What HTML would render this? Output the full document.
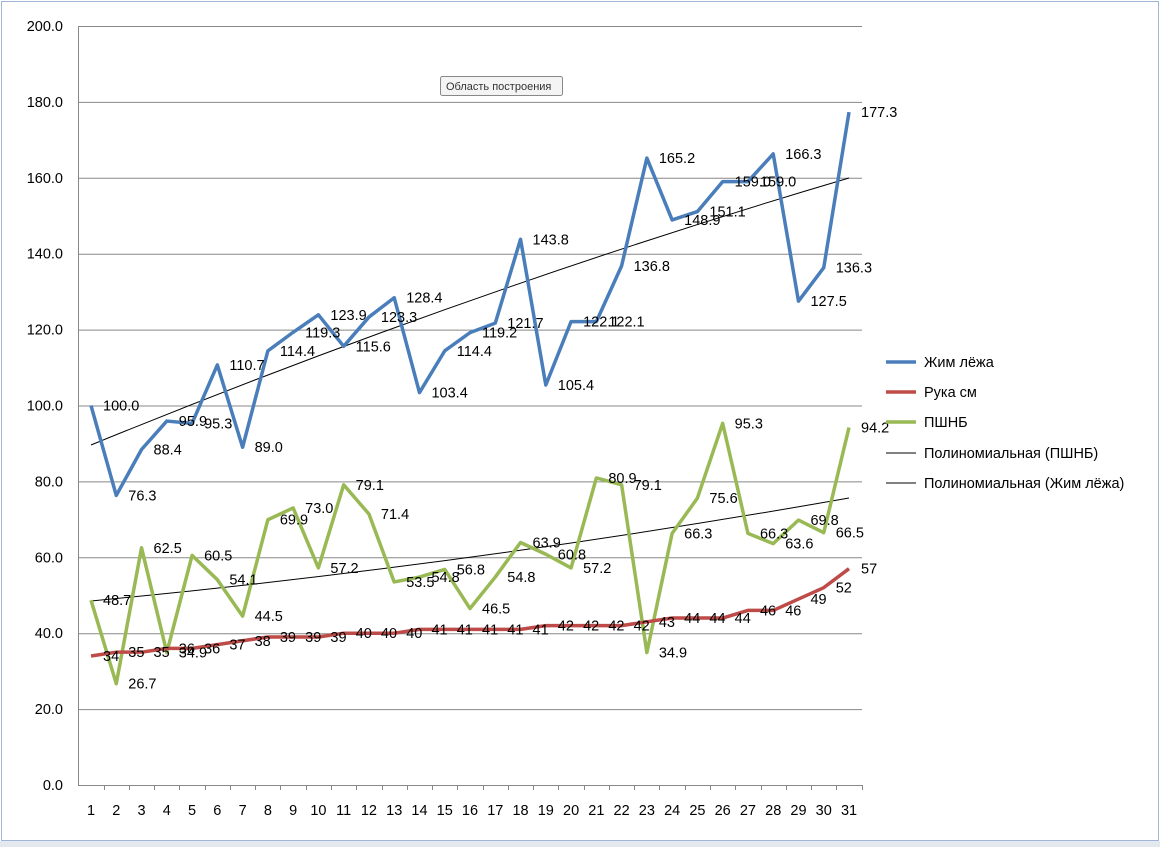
<!DOCTYPE html>
<html><head><meta charset="utf-8"><style>
body{margin:0;background:#fff;}
svg{display:block;font-family:"Liberation Sans",sans-serif;}
</style></head><body>
<svg width="1160" height="847" viewBox="0 0 1160 847" xmlns="http://www.w3.org/2000/svg">
<rect x="0" y="0" width="1160" height="847" fill="#fff"/>
<rect x="1.5" y="1.5" width="1157" height="839" fill="none" stroke="#9fb6d6" stroke-width="1"/>
<rect x="0" y="841" width="1160" height="6" fill="#e4e9f0"/>
<g id="grid" stroke="#888" stroke-width="1"></g>
<g id="ylab" font-size="14.5" fill="#000" text-anchor="end"></g>
<g id="xlab" font-size="14.5" fill="#000" text-anchor="middle"></g>
<path d="M91 445 Q470 290 849 178" fill="none" stroke="#000" stroke-width="1"/>
<path d="M91 601 Q470 565 849 498" fill="none" stroke="#000" stroke-width="1"/>
<g id="series"></g>
<g id="labels" font-size="14.5" fill="#000"></g>
<g font-size="14.5" fill="#000">
<line x1="886" y1="362" x2="916" y2="362" stroke="#4a7ebb" stroke-width="3.5"/><text x="924" y="367">Жим лёжа</text>
<line x1="886" y1="392" x2="916" y2="392" stroke="#be4b48" stroke-width="3.5"/><text x="924" y="397">Рука см</text>
<line x1="886" y1="422" x2="916" y2="422" stroke="#98b954" stroke-width="3.5"/><text x="924" y="427">ПШНБ</text>
<line x1="886" y1="453" x2="916" y2="453" stroke="#000" stroke-width="1"/><text x="924" y="458">Полиномиальная (ПШНБ)</text>
<line x1="886" y1="483" x2="916" y2="483" stroke="#000" stroke-width="1"/><text x="924" y="488">Полиномиальная (Жим лёжа)</text>
</g>
<rect x="440.5" y="76.5" width="122" height="19" fill="#f4f4f4" stroke="#888" rx="2"/>
<text x="446" y="90" font-size="11" fill="#333">Область построения</text>
</svg>
<script>
const ns="http://www.w3.org/2000/svg";
const X=i=>91+(i)*25.267, Y=v=>785-v*3.795;
function el(p,t,a,txt){const e=document.createElementNS(ns,t);for(const k in a)e.setAttribute(k,a[k]);if(txt!=null)e.textContent=txt;document.getElementById(p).appendChild(e);}
for(let v=0;v<=200;v+=20){const y=Y(v);if(v>0)el('grid','line',{x1:78,x2:862,y1:y+0.5,y2:y+0.5});el('ylab','text',{x:63,y:y+5},v.toFixed(1));}
el('grid','line',{x1:78.5,x2:78.5,y1:26,y2:785});
el('grid','line',{x1:78,x2:862,y1:785.5,y2:785.5});
for(let i=0;i<31;i++){el('xlab','text',{x:X(i),y:815},i+1);const x=Math.round(X(i)+12.6)+0.5;el('grid','line',{x1:x,x2:x,y1:785,y2:790});}
const jim=[100.0,76.3,88.4,95.9,95.3,110.7,89.0,114.4,119.3,123.9,115.6,123.3,128.4,103.4,114.4,119.2,121.7,143.8,105.4,122.1,122.1,136.8,165.2,148.9,151.1,159.0,159.0,166.3,127.5,136.3,177.3];
const ruka=[34,35,35,36,36,37,38,39,39,39,40,40,40,41,41,41,41,41,42,42,42,42,43,44,44,44,46,46,49,52,57];
const psh=[48.7,26.7,62.5,34.9,60.5,54.1,44.5,69.9,73.0,57.2,79.1,71.4,53.5,54.8,56.8,46.5,54.8,63.9,60.8,57.2,80.9,79.1,34.9,66.3,75.6,95.3,66.3,63.6,69.8,66.5,94.2];
function series(d,c,dec){el('series','polyline',{points:d.map((v,i)=>X(i)+','+Y(v)).join(' '),fill:'none',stroke:c,'stroke-width':3.5,'stroke-linejoin':'round'});
d.forEach((v,i)=>el('labels','text',{x:X(i)+12,y:Y(v)+5},dec?v.toFixed(1):v));}
series(jim,'#4a7ebb',true);series(psh,'#98b954',true);series(ruka,'#be4b48',false);
</script>
</body></html>
